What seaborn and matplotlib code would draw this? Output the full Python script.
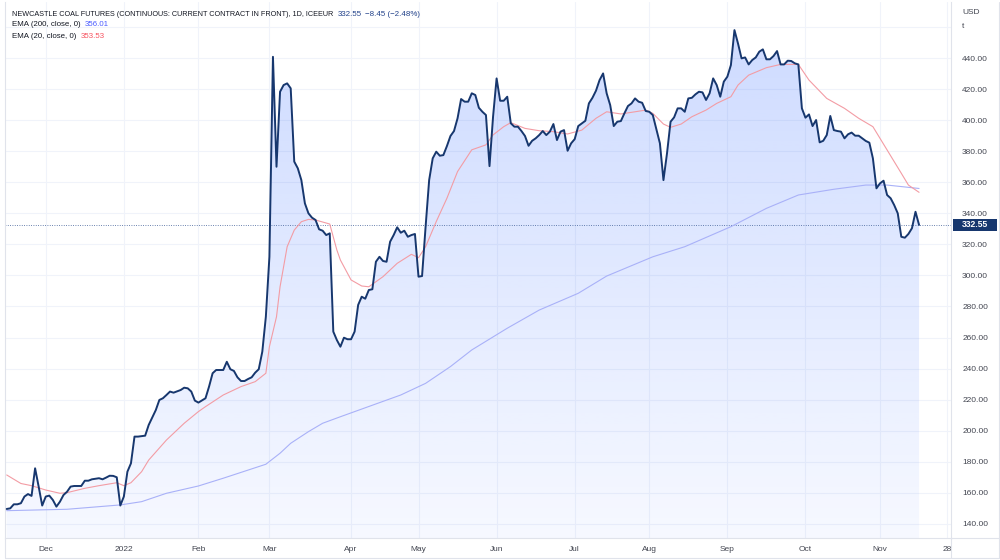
import numpy as np
import pandas as pd
import seaborn as sns
import matplotlib.pyplot as plt
from matplotlib.colors import to_rgb
from matplotlib.patches import Rectangle
from matplotlib.lines import Line2D
from matplotlib.transforms import blended_transform_factory

# bars are trading sessions counted from the first bar on the chart (2021-11-16)
price_bar = [0, 1, 2, 3, 4, 5, 6, 7, 8, 9, 10, 11, 12, 13, 14, 15, 16, 17, 18, 19,
             21, 22, 23, 24, 26, 27, 28, 29, 30, 31, 32, 33, 34, 35, 36, 37, 39, 40,
             42, 43, 44, 45, 46, 47, 49, 50, 51, 52, 53, 54, 56, 57, 58, 59, 61, 62,
             63, 64, 65, 66, 67, 68, 69, 70, 71, 72, 73, 74, 75, 76, 77, 78, 79, 80,
             81, 82, 83, 84, 85, 86, 87, 88, 89, 90, 91, 92, 93, 94, 95, 96, 97, 98,
             99, 100, 101, 102, 103, 104, 105, 106, 107, 108, 109, 110, 111, 112, 113,
             114, 115, 116, 117, 118, 119, 120, 121, 122, 123, 124, 125, 126, 127, 128,
             129, 130, 131, 132, 133, 134, 135, 136, 137, 138, 139, 140, 141, 142, 143,
             144, 145, 146, 147, 148, 149, 150, 151, 152, 153, 154, 155, 156, 157, 158,
             159, 160, 161, 163, 164, 165, 166, 167, 168, 169, 170, 171, 172, 173, 174,
             175, 176, 177, 178, 179, 180, 181, 182, 183, 184, 185, 186, 187, 188, 189,
             190, 191, 192, 193, 194, 195, 196, 197, 198, 199, 200, 201, 202, 203, 204,
             205, 206, 207, 208, 209, 210, 211, 212, 213, 214, 215, 216, 217, 218, 219,
             220, 221, 222, 223, 224, 225, 226, 227, 228, 229, 230, 231, 232, 233, 234,
             235, 236, 237, 238, 239, 240, 241, 242, 243, 244, 245, 246, 247, 248, 249,
             250, 251, 252, 253, 254, 255, 256, 257]
price_close = [149.6, 150.0, 152.6, 152.6, 153.3, 157.6, 159.2, 158.0, 175.8, 164.0,
               151.8, 157.6, 158.2, 155.4, 151.1, 154.3, 158.6, 160.7, 164.0, 164.4,
               164.4, 167.8, 167.8, 168.7, 169.4, 168.7, 169.8, 171.0, 170.9, 170.0,
               151.8, 157.6, 173.6, 179.0, 196.2, 196.2, 196.8, 203.7, 213.3, 219.8,
               220.9, 223.0, 225.2, 224.5, 226.2, 227.7, 227.3, 225.2, 219.4, 218.1,
               220.9, 228.4, 237.0, 239.1, 239.1, 244.4, 239.6, 238.5, 234.4, 232.0,
               232.0, 233.3, 234.4, 237.4, 239.6, 250.9, 273.4, 312.0, 440.8, 370.0,
               418.3, 422.6, 423.7, 420.5, 373.3, 369.0, 361.4, 346.4, 340.0, 337.2,
               335.7, 329.7, 328.8, 326.0, 327.1, 263.8, 258.4, 254.1, 259.9, 258.9,
               258.9, 263.8, 281.0, 286.3, 285.0, 290.6, 291.1, 308.8, 312.0, 309.3,
               308.8, 321.7, 326.0, 331.0, 327.5, 328.8, 324.9, 326.0, 326.7, 299.2,
               299.6, 331.4, 361.4, 375.4, 379.7, 377.1, 377.5, 383.3, 389.8, 393.0,
               401.2, 413.6, 411.9, 411.9, 417.3, 416.2, 408.0, 405.4, 403.3, 370.4,
               402.2, 426.9, 412.5, 412.5, 415.1, 398.0, 395.8, 395.8, 393.0, 389.8,
               383.5, 386.7, 388.3, 390.4, 393.0, 390.4, 392.6, 397.5, 387.2, 392.6,
               393.6, 380.3, 385.1, 387.8, 396.2, 399.6, 410.8, 414.4, 419.0, 425.8,
               430.1, 417.3, 409.7, 396.2, 399.0, 399.4, 404.4, 409.1, 410.8, 414.0,
               411.9, 411.2, 405.9, 405.4, 403.3, 394.3, 385.1, 361.4, 378.6, 399.0,
               401.8, 407.6, 407.6, 405.4, 414.0, 414.4, 416.6, 418.3, 417.9, 413.0,
               417.3, 426.9, 422.6, 415.1, 424.8, 428.0, 435.5, 458.0, 449.4, 439.8,
               440.4, 435.9, 438.7, 440.4, 444.1, 445.6, 439.2, 439.2, 441.3, 444.5,
               435.9, 435.9, 438.3, 438.1, 436.6, 435.9, 407.6, 401.6, 403.7, 396.2,
               400.1, 385.7, 386.7, 390.4, 402.7, 393.6, 393.0, 392.6, 388.3, 390.9,
               392.0, 390.0, 390.0, 388.3, 386.6, 385.5, 375.4, 356.1, 359.3, 361.0,
               351.8, 349.7, 345.3, 340.0, 324.9, 324.3, 326.7, 330.4, 341.0, 332.55]

ema20_bar = [0, 4, 7, 11, 15, 17, 22, 26, 31, 33, 35, 38, 40, 45, 50, 54, 56, 61, 66,
             70, 73, 74, 76, 77, 79, 81, 83, 85, 87, 91, 93, 94, 97, 100, 102, 106,
             110, 114, 116, 118, 121, 124, 127, 131, 135, 137, 140, 142, 146, 150, 154,
             158, 162, 166, 169, 173, 177, 180, 182, 185, 187, 190, 193, 197, 200, 204,
             206, 209, 214, 218, 223, 226, 231, 236, 240, 244, 248, 252, 254, 257]
ema20_val = [171.5, 166.0, 164.6, 161.8, 159.7, 160.1, 162.9, 164.6, 166.5, 164.6,
             166.5, 173.6, 181.1, 194.0, 204.8, 212.3, 215.5, 223.0, 228.4, 231.6,
             237.0, 254.1, 273.4, 292.7, 318.5, 329.2, 334.6, 336.1, 335.7, 333.1,
             316.4, 309.9, 297.1, 293.2, 292.7, 299.2, 307.8, 313.6, 311.4, 318.5,
             334.7, 349.7, 366.9, 380.9, 384.1, 390.5, 395.8, 398.4, 394.7, 393.2,
             392.6, 391.1, 393.6, 401.2, 405.4, 404.0, 405.4, 406.5, 404.4, 397.5,
             395.4, 397.5, 402.2, 406.5, 410.8, 415.1, 422.6, 429.0, 433.8, 435.9,
             435.9, 425.8, 414.0, 407.6, 401.2, 395.8, 380.8, 365.8, 358.2, 353.53]

ema200_bar = [0, 17, 32, 38, 45, 54, 61, 73, 77, 80, 85, 89, 94, 111, 118, 125, 131,
              141, 150, 161, 169, 182, 191, 204, 214, 223, 233, 242, 248, 257]
ema200_val = [148.5, 149.4, 152.2, 154.3, 159.7, 164.4, 169.4, 178.4, 185.5, 191.9,
              199.4, 204.8, 209.0, 223.0, 230.5, 241.3, 252.0, 266.0, 277.7, 288.5,
              299.6, 312.0, 318.5, 331.4, 343.2, 351.8, 355.5, 358.2, 358.2, 356.01]

holidays = ["2021-12-27", "2022-04-15", "2022-04-18", "2022-08-29"]
month_labels = ["Dec", "2022", "Feb", "Mar", "Apr", "May", "Jun", "Jul", "Aug",
                "Sep", "Oct", "Nov", "28"]
y_ticks = list(range(140, 461, 20))

title = "NEWCASTLE COAL FUTURES (CONTINUOUS: CURRENT CONTRACT IN FRONT), 1D, ICEEUR"
last_close = 332.55
change = "\u22128.45 (\u22122.48%)"
ema200_last = "356.01"
ema20_last = "353.53"

# trading calendar -> tick positions at first session of each month
sessions = pd.bdate_range("2021-11-16", "2022-11-30")
sessions = sessions[~sessions.isin(pd.to_datetime(holidays))]
cal = pd.Series(np.arange(len(sessions)), index=sessions)
month_first = cal.groupby([cal.index.year, cal.index.month]).first().values[1:]
tick_pos = list(month_first) + [int(cal[pd.Timestamp("2022-11-28")])]

NAVY = "#17376e"
TXT = "#434651"
GRID = "#f0f3fa"
BORDER = "#e0e3eb"

sns.set_style("white")
plt.rcParams['font.family'] = ['Liberation Sans', 'DejaVu Sans']

W, H = 1000, 560
fig = plt.figure(figsize=(10, 5.6), dpi=100)
ax = fig.add_axes([5 / W, 1 - 538 / H, (951 - 5) / W, (538 - 2) / H])

xmin, xmax = -0.48, 266.0
ylo, yhi = 130.9, 476.1

# gradient area under the price
rgba = np.zeros((256, 1, 4))
rgba[..., :3] = to_rgb("#2962ff")
rgba[:, 0, 3] = np.linspace(0.04, 0.24, 256)
im = ax.imshow(rgba, extent=[xmin, xmax, ylo, yhi], origin="lower",
               aspect="auto", zorder=1, interpolation="bilinear")
poly = ax.fill_between(price_bar, price_close, ylo, facecolor="none",
                       edgecolor="none")
im.set_clip_path(poly.get_paths()[0], transform=ax.transData)

sns.lineplot(x=ema200_bar, y=ema200_val, ax=ax, color="#a9b1f8", linewidth=0.8,
             zorder=3)
sns.lineplot(x=ema20_bar, y=ema20_val, ax=ax, color="#f39ca4", linewidth=0.8,
             zorder=3)
sns.lineplot(x=price_bar, y=price_close, ax=ax, color=NAVY, linewidth=1.4,
             zorder=4)

ax.axhline(last_close, color="#3a5a94", lw=0.6, ls=(0, (1, 1.8)), zorder=2)

ax.set_xlim(xmin, xmax)
ax.set_ylim(ylo, yhi)
ax.set_xticks(tick_pos)
ax.set_xticklabels(month_labels)
ax.set_yticks(y_ticks)
ax.set_yticklabels([f"{v:.2f}" if v <= 440 else "" for v in y_ticks])
ax.yaxis.tick_right()
ax.set_xlabel("")
ax.set_ylabel("")
ax.grid(True, color=GRID, lw=0.8)
ax.set_axisbelow(True)
ax.tick_params(axis="y", length=0, pad=8, labelsize=6, labelcolor=TXT)
ax.tick_params(axis="x", length=0, pad=6, labelsize=6, labelcolor=TXT)
for s in ax.spines.values():
    s.set_color(BORDER)
    s.set_linewidth(0.8)
ax.spines["top"].set_visible(False)

# panel separators and outer frame
def fline(x0, y0, x1, y1):
    fig.add_artist(Line2D([x0 / W, x1 / W], [1 - y0 / H, 1 - y1 / H],
                          color=BORDER, lw=0.8))

fline(951, 538, 999, 538)
fline(951, 538, 951, 558)
fline(5, 558, 999, 558)
fline(999, 2, 999, 558)
fline(5, 538, 5, 558)

# last price label on the price scale
tr = blended_transform_factory(ax.transAxes, ax.transData)
ax.add_patch(Rectangle((1.002, last_close - 4.0), 0.0465, 8.0, transform=tr,
                       facecolor=NAVY, edgecolor="none", clip_on=False, zorder=6))
ax.text(1.0255, last_close, f"{last_close:.2f}", transform=tr, ha="center",
        va="center", color="white", fontsize=6.2, fontweight="bold", zorder=7,
        clip_on=False)

fig.text(962 / W, 1 - 13 / H, "USD", fontsize=6, color=TXT, va="center")
fig.text(962 / W, 1 - 27 / H, "t", fontsize=6, color=TXT, va="center")

# legend rows
fig.canvas.draw()
rend = fig.canvas.get_renderer()


def legend_row(y, parts):
    x = 12
    for s, c, fs in parts:
        t = fig.text(x / W, 1 - y / H, s, color=c, fontsize=fs, va="center",
                     ha="left")
        x = t.get_window_extent(rend).x1 + 4


legend_row(14, [(title, "#131722", 5.2), (f"{last_close:.2f}", "#22428a", 5.7),
                (change, "#22428a", 5.7)])
legend_row(25, [("EMA (200, close, 0)", "#131722", 5.7),
                (ema200_last, "#4b5cff", 5.7)])
legend_row(36, [("EMA (20, close, 0)", "#131722", 5.7),
                (ema20_last, "#f7525f", 5.7)])

fig.savefig("out.png", dpi=100)
